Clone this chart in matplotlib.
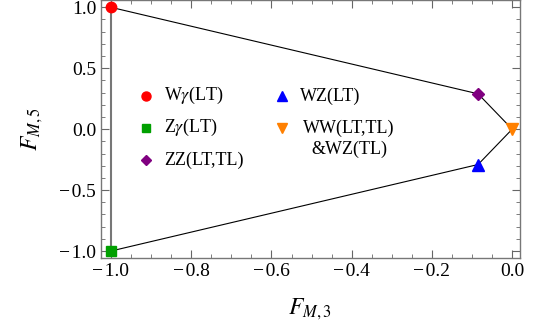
import matplotlib.pyplot as plt
from matplotlib.ticker import MultipleLocator

plt.rcParams['font.family'] = ['Liberation Serif', 'DejaVu Serif']
plt.rcParams['mathtext.fontset'] = 'stix'

# points (F_M3, F_M5)
labels = ["W$\\gamma$(LT)", "Z$\\gamma$(LT)", "ZZ(LT,TL)", "WZ(LT)", "WW(LT,TL)"]
fm3 = [-1.0, -1.0, -0.085, -0.085, 0.0]
fm5 = [1.0, -1.0, 0.29, -0.29, 0.0]
markers = ["o", "s", "D", "^", "v"]
sizes = [7.5, 7, 6.5, 8, 8]
colors = ["#ff0000", "#00a000", "#800080", "#0000ff", "#ff8000"]

# boundary path: W -> ZZ -> WW -> WZ -> Z
path_idx = [0, 2, 4, 3, 1]

fig = plt.figure(figsize=(5.37, 3.34), dpi=100)
ax = fig.add_axes([0.188, 0.228, 0.78, 0.772])

ax.plot([fm3[i] for i in path_idx], [fm5[i] for i in path_idx], color="black", lw=0.8, zorder=2)
ax.plot([fm3[1], fm3[0]], [fm5[1], fm5[0]], color="#777777", lw=1.5, zorder=2)

for x, y, m, c, s in zip(fm3, fm5, markers, colors, sizes):
    ax.plot(x, y, marker=m, color=c, ms=s, ls="none", zorder=3)

# legend, placed by hand (axes fraction)
leg_x = [0.107, 0.107, 0.107, 0.432, 0.432]
leg_y = [0.628, 0.504, 0.380, 0.628, 0.504]
for i in range(5):
    ax.plot(leg_x[i], leg_y[i], marker=markers[i], color=colors[i], ms=sizes[i] - 1,
            ls="none", transform=ax.transAxes)
    if i < 4:
        ax.text(leg_x[i] + 0.044, leg_y[i], labels[i], transform=ax.transAxes,
                fontsize=13, va="center", ha="left")
ax.text(0.592, 0.504, labels[4], transform=ax.transAxes, fontsize=13, va="center", ha="center")
ax.text(0.592, 0.419, "&WZ(TL)", transform=ax.transAxes, fontsize=13, va="center", ha="center")

ax.set_xlim(-1.025, 0.019)
ax.set_ylim(-1.056, 1.06)
ax.xaxis.set_major_locator(MultipleLocator(0.2))
ax.xaxis.set_minor_locator(MultipleLocator(0.05))
ax.yaxis.set_major_locator(MultipleLocator(0.5))
ax.yaxis.set_minor_locator(MultipleLocator(0.1))
ax.tick_params(which="both", direction="in", top=True, right=True, color="#666666", labelsize=14)
ax.tick_params(which="major", length=5.5, width=0.8)
ax.tick_params(which="minor", length=3, width=0.6)
fmt = lambda v, p: f"{v:.1f}".replace("-", "\u2212\u200a")
ax.xaxis.set_major_formatter(fmt)
ax.yaxis.set_major_formatter(fmt)
for s in ax.spines.values():
    s.set_color("#777777")
    s.set_linewidth(1.0)

ax.set_xlabel(r"$F_{M,3}$", fontsize=17, labelpad=12)
ax.set_ylabel(r"$F_{M,5}$", fontsize=17, labelpad=10)

fig.savefig("out.png", dpi=100)
